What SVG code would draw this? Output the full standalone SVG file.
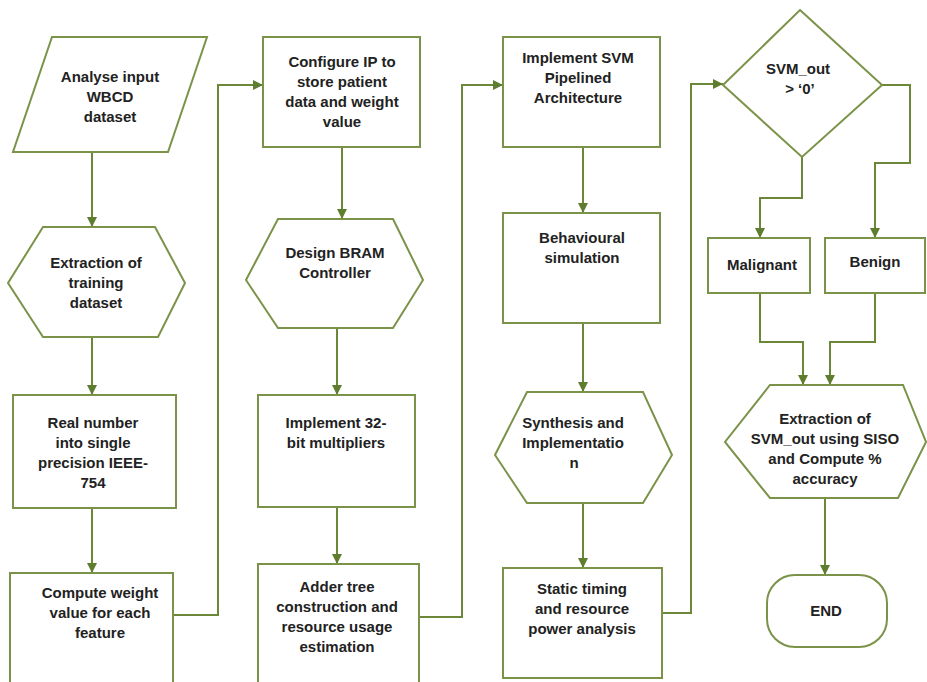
<svg xmlns="http://www.w3.org/2000/svg" width="927" height="682" viewBox="0 0 927 682">
  <defs>
    <marker id="arrow" viewBox="0 0 10 10" refX="10" refY="5" markerWidth="10" markerHeight="10" markerUnits="userSpaceOnUse" orient="auto">
      <path d="M0,0 L10,5 L0,10 z" fill="#5f7d2e"/>
    </marker>
  </defs>
  <style>
    .shape { fill: #ffffff; stroke: #7b9348; stroke-width: 2; }
    .link { fill: none; stroke: #6a8838; stroke-width: 2; }
    .arr { marker-end: url(#arrow); }
    text { font-family: "Liberation Sans", Arial, sans-serif; font-size: 15px; font-weight: bold; fill: #222222; text-anchor: middle; }
  </style>
  <rect width="927" height="682" fill="#ffffff"/>

  <!-- connectors -->
  <g id="connectors">
    <!-- column 1 -->
    <path class="link arr" d="M92,152 V227"/>
    <path class="link arr" d="M92,337 V395"/>
    <path class="link arr" d="M92,508 V573"/>
    <path class="link arr" d="M173,615 H218 V85 H263"/>
    <!-- column 2 -->
    <path class="link arr" d="M342,147 V219"/>
    <path class="link arr" d="M337,328 V395"/>
    <path class="link arr" d="M337,507 V564"/>
    <path class="link arr" d="M419,617 H462 V85 H503"/>
    <!-- column 3 -->
    <path class="link arr" d="M583,147 V213"/>
    <path class="link arr" d="M583,323 V392"/>
    <path class="link arr" d="M583,503 V568"/>
    <path class="link arr" d="M662,613 H691 V84 H723"/>
    <!-- decision and result -->
    <path class="link arr" d="M802,157 V198 H760 V238"/>
    <path class="link arr" d="M882,85 H910 V163 H875 V238"/>
    <path class="link arr" d="M760,293 V342 H803 V385"/>
    <path class="link arr" d="M875,293 V342 H830 V385"/>
    <path class="link arr" d="M825,498 V575"/>
  </g>

  <!-- column 1 -->
  <g id="analyse-input">
    <polygon class="shape" points="52,37 207,37 168,152 13,152"/>
    <text x="110" y="82">Analyse input</text>
    <text x="110" y="102">WBCD</text>
    <text x="110" y="122">dataset</text>
  </g>
  <g id="extract-training">
    <polygon class="shape" points="43,227 155,227 185,283 158,337 43,337 8,283"/>
    <text x="96" y="268">Extraction of</text>
    <text x="96" y="288">training</text>
    <text x="96" y="308">dataset</text>
  </g>
  <g id="real-number">
    <rect class="shape" x="13" y="395" width="163" height="113"/>
    <text x="93" y="428">Real number</text>
    <text x="93" y="448">into single</text>
    <text x="93" y="468">precision IEEE-</text>
    <text x="93" y="488">754</text>
  </g>
  <g id="compute-weight">
    <rect class="shape" x="10" y="573" width="163" height="120"/>
    <text x="100" y="598">Compute weight</text>
    <text x="100" y="618">value for each</text>
    <text x="100" y="638">feature</text>
  </g>

  <!-- column 2 -->
  <g id="configure-ip">
    <rect class="shape" x="263" y="37" width="157" height="110"/>
    <text x="342" y="67">Configure IP to</text>
    <text x="342" y="87">store patient</text>
    <text x="342" y="107">data and weight</text>
    <text x="342" y="127">value</text>
  </g>
  <g id="design-bram">
    <polygon class="shape" points="278,219 393,219 423,280 393,328 278,328 246,280"/>
    <text x="335" y="258">Design BRAM</text>
    <text x="335" y="278">Controller</text>
  </g>
  <g id="multipliers">
    <rect class="shape" x="258" y="395" width="157" height="112"/>
    <text x="336" y="428">Implement 32-</text>
    <text x="336" y="448">bit multipliers</text>
  </g>
  <g id="adder-tree">
    <rect class="shape" x="258" y="564" width="161" height="130"/>
    <text x="337" y="592">Adder tree</text>
    <text x="337" y="612">construction and</text>
    <text x="337" y="632">resource usage</text>
    <text x="337" y="652">estimation</text>
  </g>

  <!-- column 3 -->
  <g id="svm-pipeline">
    <rect class="shape" x="503" y="37" width="157" height="110"/>
    <text x="578" y="63">Implement SVM</text>
    <text x="578" y="83">Pipelined</text>
    <text x="578" y="103">Architecture</text>
  </g>
  <g id="behavioural-sim">
    <rect class="shape" x="503" y="213" width="157" height="110"/>
    <text x="582" y="243">Behavioural</text>
    <text x="582" y="263">simulation</text>
  </g>
  <g id="synthesis">
    <polygon class="shape" points="527,392 643,392 672,455 643,503 527,503 495,455"/>
    <text x="573" y="428">Synthesis and</text>
    <text x="573" y="448">Implementatio</text>
    <text x="574" y="468">n</text>
  </g>
  <g id="static-timing">
    <rect class="shape" x="503" y="568" width="159" height="110"/>
    <text x="582" y="594">Static timing</text>
    <text x="582" y="614">and resource</text>
    <text x="582" y="634">power analysis</text>
  </g>

  <!-- column 4 -->
  <g id="decision">
    <polygon class="shape" points="800,10 882,85 802,157 723,85"/>
    <text x="798" y="74">SVM_out</text>
    <text x="800" y="94">&gt; ‘0’</text>
  </g>
  <g id="malignant">
    <rect class="shape" x="708" y="238" width="102" height="55"/>
    <text x="762" y="270">Malignant</text>
  </g>
  <g id="benign">
    <rect class="shape" x="825" y="238" width="100" height="55"/>
    <text x="875" y="267">Benign</text>
  </g>
  <g id="extract-result">
    <polygon class="shape" points="770,385 903,385 926,442 898,498 770,498 725,442"/>
    <text x="825" y="424">Extraction of</text>
    <text x="825" y="444">SVM_out using SISO</text>
    <text x="825" y="464">and Compute %</text>
    <text x="825" y="484">accuracy</text>
  </g>
  <g id="end">
    <rect class="shape" x="767" y="575" width="120" height="72" rx="28" ry="28"/>
    <text x="826" y="616">END</text>
  </g>
</svg>
